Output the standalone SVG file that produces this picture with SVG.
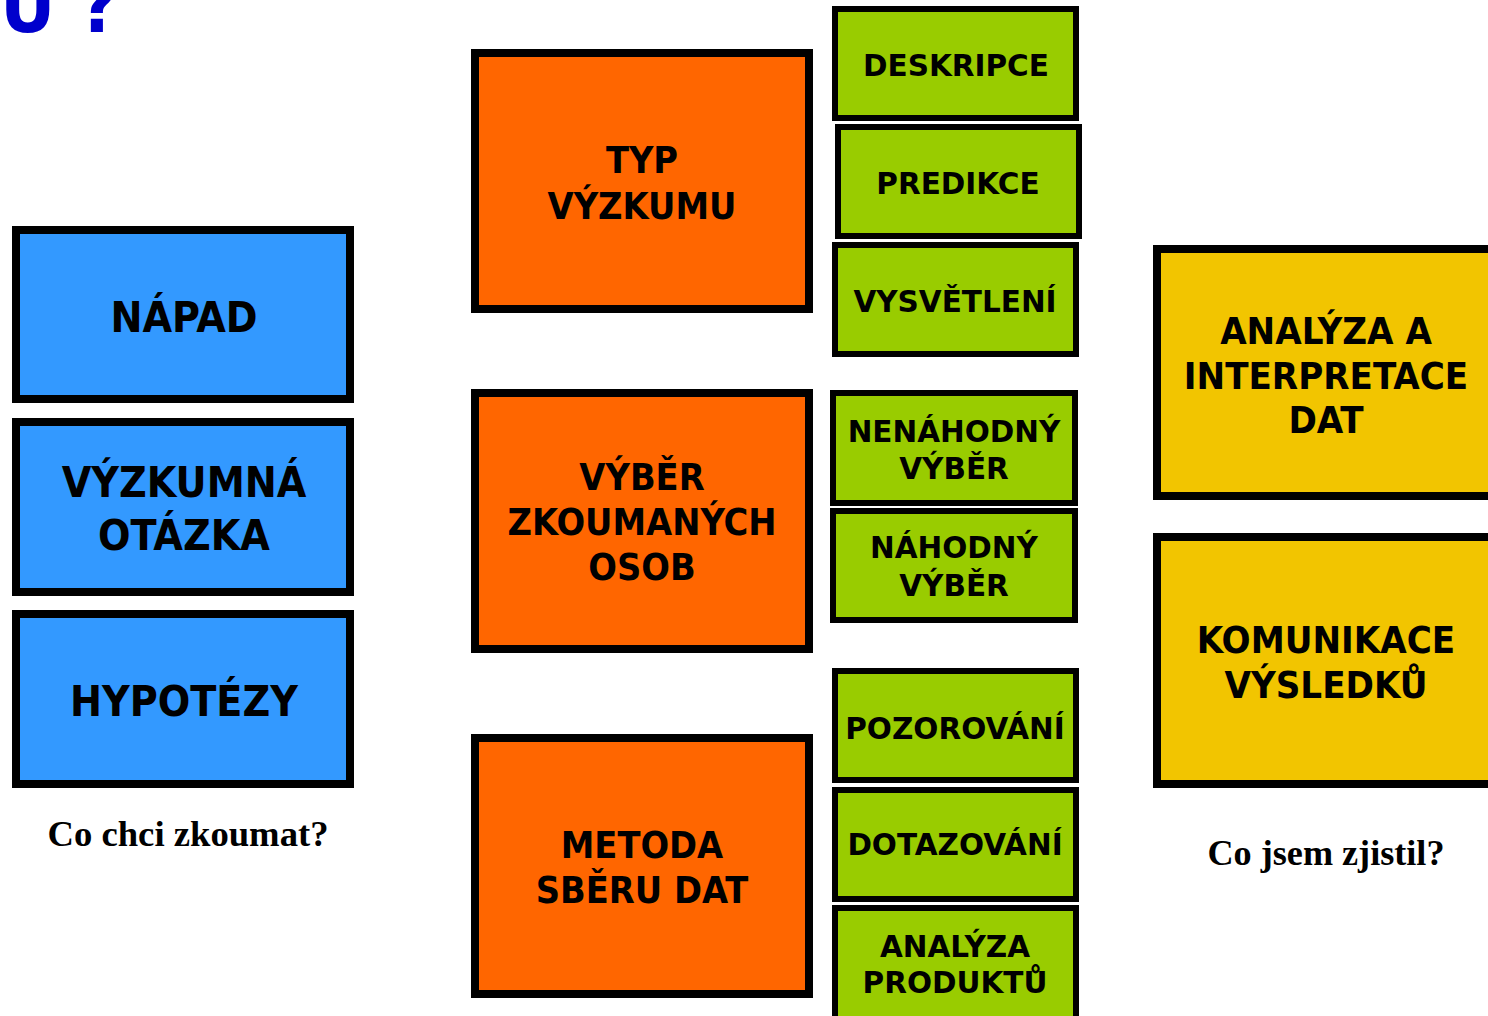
<svg xmlns="http://www.w3.org/2000/svg" width="1488" height="1016" viewBox="0 0 1488 1016">
<style>
.t{font-family:"DejaVu Sans Condensed","DejaVu Sans",sans-serif;font-stretch:condensed;font-weight:bold;fill:#000;text-anchor:middle}
.b{fill:#3399FF;stroke:#000;stroke-width:8}
.o{fill:#FF6600;stroke:#000;stroke-width:8}
.g{fill:#99CC00;stroke:#000;stroke-width:6}
.y{fill:#F2C500;stroke:#000;stroke-width:8}
.tb{font-size:42.5px}
.to{font-size:37.5px}
.tg{font-family:"DejaVu Sans",sans-serif;font-stretch:normal;font-size:29.5px}
.ty{font-size:38px}
.s{font-family:"Liberation Serif",serif;font-weight:bold;font-size:35px;fill:#000;text-anchor:middle}
</style>
<rect width="1488" height="1016" fill="#fff"/>
<text x="0" y="32" style="font-family:'DejaVu Sans Condensed','DejaVu Sans',sans-serif;font-stretch:condensed;font-weight:bold;font-size:76px;fill:#0000CC">U ?</text>
<g id="connectors"/>
<g id="napad"><rect class="b" x="16" y="230" width="334" height="169"/><text class="t tb" x="184" y="332">NÁPAD</text></g>
<g id="otazka"><rect class="b" x="16" y="422" width="334" height="170"/><text class="t tb" x="184" y="497">VÝZKUMNÁ</text><text class="t tb" x="184" y="550">OTÁZKA</text></g>
<g id="hypotezy"><rect class="b" x="16" y="614" width="334" height="170"/><text class="t tb" x="184" y="716">HYPOTÉZY</text></g>
<text id="q1" class="s" x="188" y="846" textLength="281" lengthAdjust="spacingAndGlyphs">Co chci zkoumat?</text>
<g id="typ"><rect class="o" x="475" y="53" width="334" height="256"/><text class="t to" x="642" y="173">TYP</text><text class="t to" x="642" y="219">VÝZKUMU</text></g>
<g id="vyber"><rect class="o" x="475" y="393" width="334" height="256"/><text class="t to" x="642" y="490">VÝBĚR</text><text class="t to" x="642" y="535">ZKOUMANÝCH</text><text class="t to" x="642" y="580">OSOB</text></g>
<g id="metoda"><rect class="o" x="475" y="738" width="334" height="256"/><text class="t to" x="642" y="858">METODA</text><text class="t to" x="642" y="903">SBĚRU DAT</text></g>
<g id="deskripce"><rect class="g" x="835" y="9" width="241" height="109"/><text class="t tg" x="956" y="76">DESKRIPCE</text></g>
<g id="predikce"><rect class="g" x="838" y="127" width="241" height="109"/><text class="t tg" x="958" y="194">PREDIKCE</text></g>
<g id="vysvetleni"><rect class="g" x="835" y="245" width="241" height="109"/><text class="t tg" x="955" y="312">VYSVĚTLENÍ</text></g>
<g id="nenahodny"><rect class="g" x="833" y="393" width="242" height="110"/><text class="t tg" x="954" y="442">NENÁHODNÝ</text><text class="t tg" x="954" y="479">VÝBĚR</text></g>
<g id="nahodny"><rect class="g" x="833" y="511" width="242" height="109"/><text class="t tg" x="954" y="558">NÁHODNÝ</text><text class="t tg" x="954" y="596">VÝBĚR</text></g>
<g id="pozorovani"><rect class="g" x="835" y="671" width="241" height="109"/><text class="t tg" x="955" y="739">POZOROVÁNÍ</text></g>
<g id="dotazovani"><rect class="g" x="835" y="790" width="241" height="109"/><text class="t tg" x="955" y="855">DOTAZOVÁNÍ</text></g>
<g id="produkty"><rect class="g" x="835" y="908" width="241" height="115"/><text class="t tg" x="955" y="957">ANALÝZA</text><text class="t tg" x="955" y="993">PRODUKTŮ</text></g>
<g id="analyza"><rect class="y" x="1157" y="249" width="340" height="247"/><text class="t ty" x="1326" y="344">ANALÝZA A</text><text class="t ty" x="1326" y="389">INTERPRETACE</text><text class="t ty" x="1326" y="433">DAT</text></g>
<g id="komunikace"><rect class="y" x="1157" y="537" width="340" height="247"/><text class="t ty" x="1326" y="653">KOMUNIKACE</text><text class="t ty" x="1326" y="698">VÝSLEDKŮ</text></g>
<text id="q2" class="s" x="1326" y="865" textLength="237" lengthAdjust="spacingAndGlyphs">Co jsem zjistil?</text>
</svg>
